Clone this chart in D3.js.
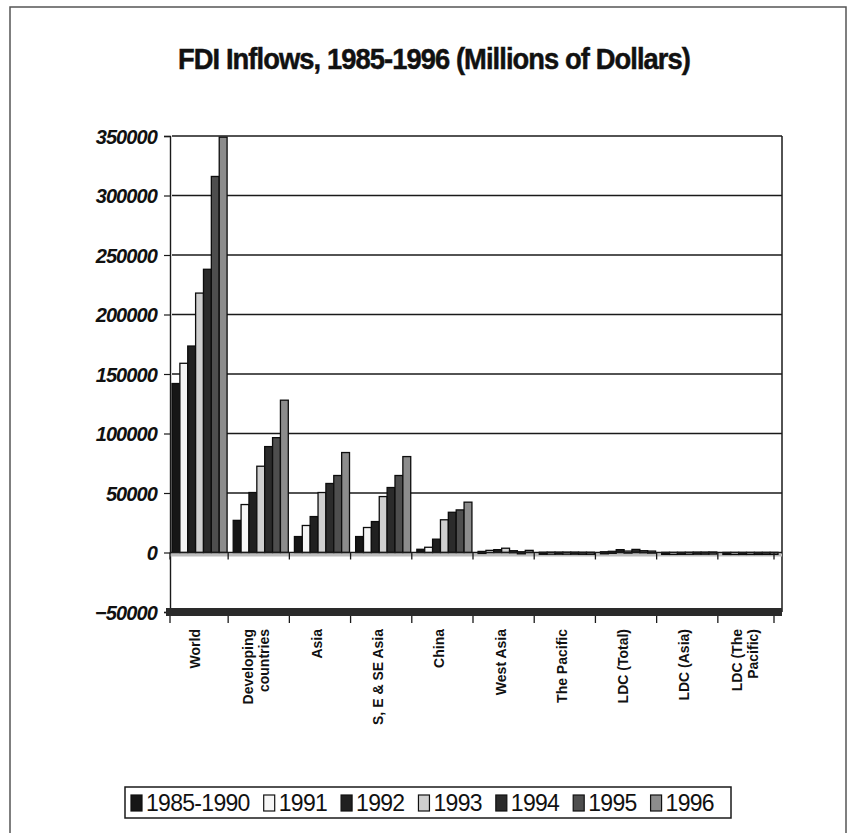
<!DOCTYPE html>
<html>
<head>
<meta charset="utf-8">
<script src="https://cdn.jsdelivr.net/npm/d3@7"></script>
<style>
  html, body { margin: 0; padding: 0; background: #ffffff; }
  svg { display: block; }
</style>
</head>
<body>
<svg id="chart" width="854" height="833"></svg>
<script>
// FDI inflows by region, millions of dollars
const categories = [
  "World", "Developing countries", "Asia", "S, E & SE Asia", "China",
  "West Asia", "The Pacific", "LDC (Total)", "LDC (Asia)", "LDC (The Pacific)"
];
const categoryLines = [
  ["World"], ["Developing", "countries"], ["Asia"], ["S, E & SE Asia"], ["China"],
  ["West Asia"], ["The Pacific"], ["LDC (Total)"], ["LDC (Asia)"], ["LDC (The", "Pacific)"]
];
const seriesNames = ["1985-1990", "1991", "1992", "1993", "1994", "1995", "1996"];

const v1985_1990 = [142000, 27000, 13400, 13400, 2700, 900, 200, 600, 100, 60];
const v1991      = [159000, 40300, 22700, 21000, 4400, 1800, 300, 1000, 100, 60];
const v1992      = [173500, 50400, 30200, 26000, 11200, 2400, 300, 2400, 150, 60];
const v1993      = [218000, 72500, 50400, 47000, 27500, 3600, 300, 1200, 200, 80];
const v1994      = [238000, 89000, 58000, 54600, 33800, 1500, 300, 2600, 300, 80];
const v1995      = [316000, 96500, 64700, 64700, 35800, 600, 200, 1500, 300, 100];
const v1996      = [349000, 128000, 84000, 80600, 42300, 1800, 200, 1200, 400, 100];
const seriesValues = [v1985_1990, v1991, v1992, v1993, v1994, v1995, v1996];

const yTicks = [-50000, 0, 50000, 100000, 150000, 200000, 250000, 300000, 350000];
const seriesFills = ["#161616", "#f6f6f6", "#202020", "#cfcfcf", "#2b2b2b", "#4e4e4e", "#8c8c8c"];

const svg = d3.select("#chart");

// page frame
svg.append("path")
  .attr("d", "M10,840 L10,7 L846,7 L846,840")
  .attr("fill", "none").attr("stroke", "#555").attr("stroke-width", 1.5);

// title
svg.append("text")
  .attr("x", 434).attr("y", 69)
  .attr("text-anchor", "middle")
  .attr("font-family", "'Liberation Sans Narrow', 'Arial Narrow', 'Liberation Sans', Arial, sans-serif")
  .attr("font-weight", "bold")
  .attr("font-size", 30)
  .attr("letter-spacing", -1)
  .attr("textLength", 512)
  .attr("lengthAdjust", "spacingAndGlyphs")
  .attr("fill", "#111")
  .attr("stroke", "#111")
  .attr("stroke-width", 0.5)
  .text("FDI Inflows, 1985-1996 (Millions of Dollars)");

// scales
const y = d3.scaleLinear().domain([-50000, 350000]).range([612, 136]);
const x0 = d3.scaleBand().domain(categories).range([172, 778]).paddingInner(0.1).paddingOuter(0);
const x1 = d3.scaleBand().domain(seriesNames).range([0, x0.bandwidth()]);

const plotLeft = 170, plotRight = 782;

// back-wall gridlines
svg.append("g").selectAll("line")
  .data(yTicks.filter(t => t > 0))
  .join("line")
  .attr("x1", plotLeft + 2).attr("x2", plotRight)
  .attr("y1", d => y(d)).attr("y2", d => y(d))
  .attr("stroke", "#1a1a1a").attr("stroke-width", 1.3);

// right wall edge
svg.append("line")
  .attr("x1", plotRight).attr("x2", plotRight)
  .attr("y1", y(350000)).attr("y2", y(-50000))
  .attr("stroke", "#1a1a1a").attr("stroke-width", 1.5);

// value axis
const yAxis = d3.axisLeft(y).tickValues(yTicks).tickSize(6).tickFormat(d3.format("d"));
const yg = svg.append("g").attr("transform", `translate(${plotLeft},0)`).call(yAxis);
yg.select(".domain").attr("stroke", "#1a1a1a").attr("stroke-width", 1.4);
yg.selectAll(".tick line").attr("stroke", "#1a1a1a").attr("stroke-width", 1.2);
yg.selectAll(".tick text")
  .attr("x", -13)
  .attr("dy", "0.36em")
  .attr("font-family", "'Liberation Sans', Arial, sans-serif")
  .attr("font-weight", "bold")
  .attr("font-style", "italic")
  .attr("font-size", 20)
  .attr("letter-spacing", -0.9)
  .attr("fill", "#111");

// floor below zero line
svg.append("rect")
  .attr("x", plotLeft).attr("y", y(0) + 1)
  .attr("width", plotRight - plotLeft).attr("height", 3)
  .attr("fill", "#bdbdbd");

// floor slab at the bottom of the value range
svg.append("rect")
  .attr("x", plotLeft - 4).attr("y", y(-50000) - 4)
  .attr("width", plotRight - plotLeft + 4).attr("height", 8)
  .attr("fill", "#2a2a2a");

// bars
const groups = svg.append("g").selectAll("g")
  .data(categories)
  .join("g")
  .attr("transform", c => `translate(${x0(c)},0)`);

groups.selectAll("rect")
  .data((c, i) => seriesNames.map((s, j) => ({ s, j, v: seriesValues[j][i] })))
  .join("rect")
  .attr("x", d => x1(d.s))
  .attr("width", x1.bandwidth())
  .attr("y", d => y(Math.max(0, d.v)))
  .attr("height", d => Math.max(2, Math.abs(y(d.v) - y(0))))
  .attr("fill", d => seriesFills[d.j])
  .attr("stroke", "#0d0d0d")
  .attr("stroke-width", 1.3);

// zero line across the plot
svg.append("line")
  .attr("x1", plotLeft).attr("x2", plotRight)
  .attr("y1", y(0)).attr("y2", y(0))
  .attr("stroke", "#1a1a1a").attr("stroke-width", 1.6);

// category axis ticks at zero and at the floor
const bounds = d3.range(categories.length + 1).map(i =>
  i === 0 ? plotLeft : (i === categories.length ? 774 : x0(categories[i]) - x0.step() * x0.paddingInner() / 2 - 2));
[y(0), y(-50000) + 4].forEach(yy => {
  svg.append("g").selectAll("line")
    .data(bounds)
    .join("line")
    .attr("x1", d => d).attr("x2", d => d)
    .attr("y1", yy).attr("y2", yy + 7)
    .attr("stroke", "#1a1a1a").attr("stroke-width", 1.3);
});

// category labels, rotated
const labelG = svg.append("g");
categories.forEach((c, i) => {
  const cx = x0(c) + x0.bandwidth() / 2 - 5;
  const lines = categoryLines[i];
  const t = labelG.append("text")
    .attr("transform", `translate(${cx},629) rotate(-90)`)
    .attr("text-anchor", "end")
    .attr("font-family", "'Liberation Sans', Arial, sans-serif")
    .attr("font-weight", "bold")
    .attr("font-size", 14)
    .attr("fill", "#111");
  lines.forEach((ln, k) => {
    t.append("tspan")
      .attr("x", 0)
      .attr("y", (k - (lines.length - 1) / 2) * 16 + 5)
      .text(ln);
  });
});

// legend
const legend = svg.append("g");
legend.append("rect")
  .attr("x", 125).attr("y", 787).attr("width", 606).attr("height", 31)
  .attr("fill", "#fff").attr("stroke", "#1a1a1a").attr("stroke-width", 1.5);
let lx = 131;
seriesNames.forEach((s, j) => {
  legend.append("rect")
    .attr("x", lx).attr("y", 795).attr("width", 11).attr("height", 16)
    .attr("fill", seriesFills[j]).attr("stroke", "#111").attr("stroke-width", 1.2);
  const t = legend.append("text")
    .attr("x", lx + 15).attr("y", 811)
    .attr("font-family", "'Liberation Sans', Arial, sans-serif")
    .attr("font-size", 23)
    .attr("letter-spacing", -0.7)
    .attr("fill", "#111")
    .text(s);
  lx += 15 + t.node().getComputedTextLength() + 14;
});
</script>
</body>
</html>
